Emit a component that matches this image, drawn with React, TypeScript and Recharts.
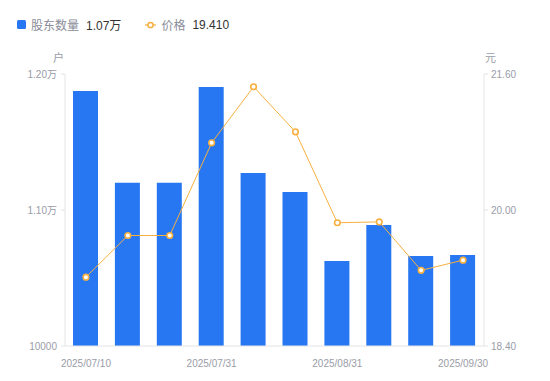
import React from "react";
import { ComposedChart, Bar, Line, XAxis, YAxis } from "recharts";

const dates = [
  "2025/07/10", "2025/07/18", "2025/07/20", "2025/07/31", "2025/08/10",
  "2025/08/20", "2025/08/31", "2025/09/10", "2025/09/19", "2025/09/30",
];
const holders = [11875, 11200, 11200, 11904, 11272, 11132, 10625, 10890, 10662, 10669];
const prices = [19.21, 19.70, 19.70, 20.79, 21.45, 20.92, 19.85, 19.86, 19.29, 19.41];
const leftTicks = [10000, 11000, 12000];
const rightTicks = [18.4, 20.0, 21.6];

const data = dates.map((d, i) => ({ date: d, holders: holders[i], price: prices[i] }));

const BLUE = "#2777F3";
const ORANGE = "#F7B040";
const AXIS_TEXT = "#9a9ca8";
const FONT = "'Liberation Sans', Arial, 'Noto Sans CJK SC', sans-serif";

const fmtLeft = (v: number) => (v === 10000 ? "10000" : (v / 10000).toFixed(2) + "万");
const fmtRight = (v: number) => v.toFixed(2);

const Dot = (props: any) => {
  const { cx, cy } = props;
  if (cx == null || cy == null) return null;
  return <circle cx={cx} cy={cy} r={2.8} fill="#fff" stroke={ORANGE} strokeWidth={1.6} />;
};

export default function App() {
  const last = data.length - 1;
  return (
    <div style={{ position: "absolute", left: 0, top: 0, width: 550, height: 381, fontFamily: FONT }}>
      <div style={{ position: "absolute", left: 17, top: 15.5, height: 18, display: "flex", alignItems: "center", fontSize: 12, fontFamily: "'Noto Sans CJK SC', 'Liberation Sans', sans-serif", whiteSpace: "nowrap" }}>
        <span style={{ display: "inline-block", width: 9, height: 9, background: BLUE, borderRadius: 1.5, marginRight: 5 }} />
        <span style={{ color: "#8a8c99" }}>股东数量</span>
        <span style={{ color: "#333", marginLeft: 7, fontFamily: FONT }}>{fmtLeft(holders[last]).replace(/0万$/, "万")}</span>
        <svg width={11} height={10} style={{ marginLeft: 24, marginRight: 5 }}>
          <line x1={0} y1={5} x2={11} y2={5} stroke={ORANGE} strokeWidth={1.2} />
          <circle cx={5.5} cy={5} r={2.6} fill="#fff" stroke={ORANGE} strokeWidth={1.5} />
        </svg>
        <span style={{ color: "#8a8c99" }}>价格</span>
        <span style={{ color: "#333", marginLeft: 7, fontFamily: FONT }}>{prices[last].toFixed(3)}</span>
      </div>
      <div style={{ position: "absolute", left: 53, top: 49, fontSize: 11, color: AXIS_TEXT, fontFamily: "'Noto Sans CJK SC', sans-serif" }}>户</div>
      <div style={{ position: "absolute", left: 485, top: 49, fontSize: 11, color: AXIS_TEXT, fontFamily: "'Noto Sans CJK SC', sans-serif" }}>元</div>
      <ComposedChart
        width={550}
        height={381}
        data={data}
        margin={{ top: 74, right: 0, left: 0, bottom: 0 }}
      >
        <XAxis
          dataKey="date"
          height={35}
          interval={2}
          tickLine={false}
          axisLine={{ stroke: "#e3e4e8" }}
          tick={{ fill: AXIS_TEXT, fontSize: 10, fontFamily: FONT }}
          tickMargin={8}
        />
        <YAxis
          yAxisId="left"
          orientation="left"
          width={65}
          domain={[10000, 12000]}
          ticks={leftTicks}
          tickFormatter={fmtLeft}
          axisLine={{ stroke: "#e3e4e8" }}
          tickLine={{ stroke: "#e3e4e8" }}
          tickSize={4}
          tickMargin={4}
          tick={{ fill: AXIS_TEXT, fontSize: 10, fontFamily: FONT }}
          allowDataOverflow
        />
        <YAxis
          yAxisId="right"
          orientation="right"
          width={66}
          domain={[18.4, 21.6]}
          ticks={rightTicks}
          tickFormatter={fmtRight}
          axisLine={{ stroke: "#e3e4e8" }}
          tickLine={{ stroke: "#e3e4e8" }}
          tickSize={4}
          tickMargin={3}
          tick={{ fill: AXIS_TEXT, fontSize: 10, fontFamily: FONT }}
          allowDataOverflow
        />
        <Bar yAxisId="left" dataKey="holders" fill={BLUE} barSize={25} isAnimationActive={false} />
        <Line
          yAxisId="right"
          type="linear"
          dataKey="price"
          stroke={ORANGE}
          strokeWidth={1}
          dot={<Dot />}
          activeDot={false}
          isAnimationActive={false}
        />
      </ComposedChart>
    </div>
  );
}
